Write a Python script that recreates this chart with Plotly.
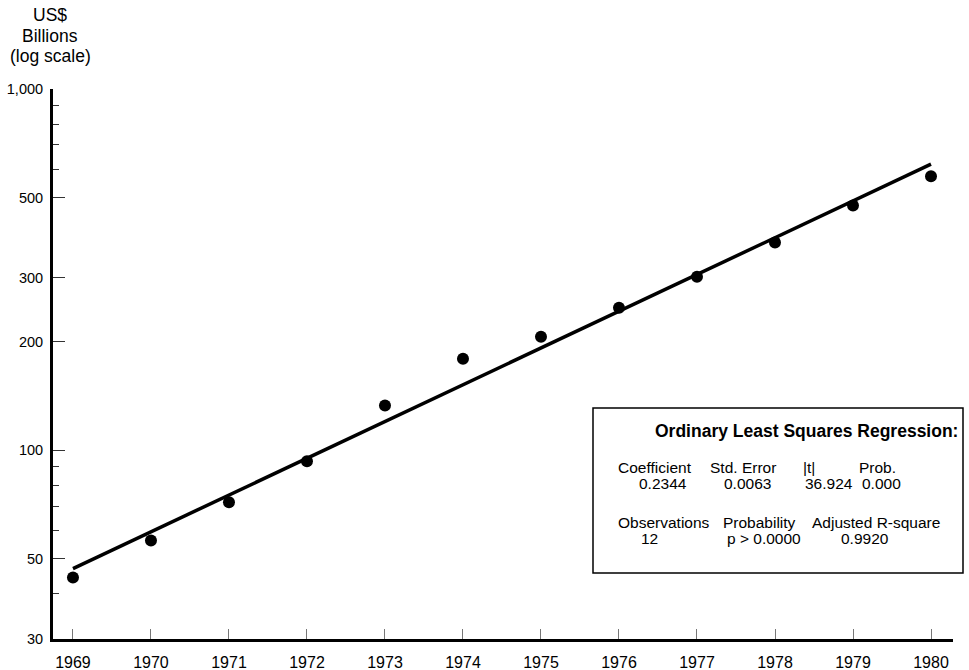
import numpy as np
import plotly.graph_objects as go

# Annual values, US$ billions
years = [1969, 1970, 1971, 1972, 1973, 1974, 1975, 1976, 1977, 1978, 1979, 1980]
values = [44.4, 56.2, 71.7, 93.2, 133, 179, 206, 248, 302, 376, 476, 573]

# Log-linear trend: value = start * exp(coef * (year - 1969))
fit_coef = 0.2344
fit_start = 47.0

# Regression summary table
stats_headers = ["Coefficient", "Std. Error", "|t|", "Prob."]
stats_values = ["0.2344", "0.0063", "36.924", "0.000"]
stats2_headers = ["Observations", "Probability", "Adjusted R-square"]
stats2_values = ["12", "p > 0.0000", "0.9920"]

# Axis ticks
y_major = [30, 50, 100, 200, 300, 500, 1000]
y_major_text = ["30", "50", "100", "200", "300", "500", "1,000"]
y_minor = [40, 60, 70, 80, 90, 600, 700, 800, 900]

W, H = 969, 670
L, R, T, B = 53, 16, 89, 31
PW, PH = W - L - R, H - T - B


def px(x):
    return (x - L) / PW


def py(y):
    return (H - B - y) / PH


fit_x = np.array([years[0], years[-1]], dtype=float)
fit_y = fit_start * np.exp(fit_coef * (fit_x - years[0]))

fig = go.Figure()
fig.add_trace(go.Scatter(x=fit_x, y=fit_y, mode="lines",
                         line=dict(color="black", width=3.5), hoverinfo="skip"))
fig.add_trace(go.Scatter(x=years, y=values, mode="markers",
                         marker=dict(color="black", size=12)))

font = "Liberation Sans, Arial, sans-serif"

fig.update_layout(
    width=W, height=H,
    margin=dict(l=L, r=R, t=T, b=B),
    paper_bgcolor="white", plot_bgcolor="white",
    showlegend=False,
    font=dict(family=font, color="black"),
    xaxis=dict(
        range=[1968.744, 1980.282],
        tickmode="array", tickvals=years, ticktext=[str(y) for y in years],
        ticks="inside", ticklen=10, tickcolor="#777", tickwidth=1,
        showline=True, linecolor="black", linewidth=3,
        showgrid=False, zeroline=False,
        tickfont=dict(size=16, family=font),
        ticklabelstandoff=7, automargin=False,
    ),
    yaxis=dict(
        type="log",
        range=[np.log10(30), np.log10(1000)],
        tickmode="array", tickvals=y_major, ticktext=y_major_text,
        ticks="inside", ticklen=12, tickcolor="#333", tickwidth=1,
        minor=dict(tickmode="array", tickvals=y_minor, ticks="inside",
                   ticklen=6, tickcolor="#333", tickwidth=1, showgrid=False),
        showline=True, linecolor="black", linewidth=3,
        showgrid=False, zeroline=False,
        tickfont=dict(size=14.5, family=font),
        ticklabelstandoff=4, automargin=False,
    ),
)

# Axis title stacked above the y axis
for text, yy in [("US$", 15), ("Billions", 36), ("(log scale)", 56)]:
    fig.add_annotation(text=text, xref="paper", yref="paper",
                       x=px(50), y=py(yy), xanchor="center", yanchor="middle",
                       showarrow=False, font=dict(size=17.5, family=font))

# Regression summary box
fig.add_shape(type="rect", xref="paper", yref="paper",
              x0=px(593), x1=px(963), y0=py(573), y1=py(408),
              line=dict(color="black", width=1.5), fillcolor="white")

fig.add_annotation(text="<b>Ordinary Least Squares Regression:</b>",
                   xref="paper", yref="paper", x=px(806), y=py(431),
                   xanchor="center", yanchor="middle", showarrow=False,
                   font=dict(size=17.5, family=font))

row1_x = [655, 743, 809, 877]
row1_vx = [663, 747, 829, 881]
for h, v, hx, vx in zip(stats_headers, stats_values, row1_x, row1_vx):
    fig.add_annotation(text=h, xref="paper", yref="paper", x=px(hx), y=py(467),
                       xanchor="center", yanchor="middle", showarrow=False,
                       font=dict(size=15.5, family=font))
    fig.add_annotation(text=v, xref="paper", yref="paper", x=px(vx), y=py(483),
                       xanchor="center", yanchor="middle", showarrow=False,
                       font=dict(size=15.5, family=font))

row2_x = [664, 759, 876]
row2_vx = [649, 764, 865]
for h, v, hx, vx in zip(stats2_headers, stats2_values, row2_x, row2_vx):
    fig.add_annotation(text=h, xref="paper", yref="paper", x=px(hx), y=py(522),
                       xanchor="center", yanchor="middle", showarrow=False,
                       font=dict(size=15.5, family=font))
    fig.add_annotation(text=v, xref="paper", yref="paper", x=px(vx), y=py(538),
                       xanchor="center", yanchor="middle", showarrow=False,
                       font=dict(size=15.5, family=font))

fig.write_html("out.html")
